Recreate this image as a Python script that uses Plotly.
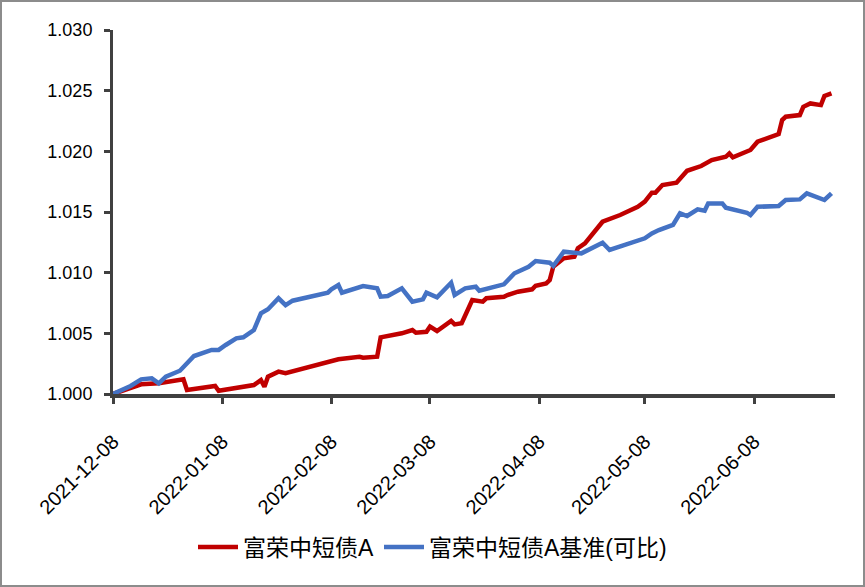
import pandas as pd
import plotly.graph_objects as go

start_date = "2021-12-08"

# Series 1: 富荣中短债A  (day offset from start date, unit NAV)
fund_days = [0, 5, 8, 13, 20, 21, 27, 29, 30, 35, 40, 42, 43, 44, 47, 49, 62, 64, 70, 71,
             75, 76, 82, 85, 86, 89, 90, 92, 96, 97, 99, 102, 105, 106, 111, 112, 115, 119,
             120, 123, 124, 125, 128, 131, 132, 134, 139, 144, 149, 151, 153, 154, 156, 160,
             163, 167, 170, 174, 175, 176, 181, 183, 189, 190, 191, 195, 196, 198, 201, 202, 204]
fund_vals = [1.00000, 1.00049, 1.00080, 1.00088, 1.00121, 1.00033, 1.00060, 1.00066, 1.00027,
             1.00047, 1.00074, 1.00115, 1.00060, 1.00143, 1.00184, 1.00171, 1.00266, 1.00286,
             1.00307, 1.00299, 1.00307, 1.00467, 1.00500, 1.00527, 1.00505, 1.00513, 1.00555,
             1.00519, 1.00602, 1.00574, 1.00583, 1.00775, 1.00761, 1.00789, 1.00802, 1.00816,
             1.00843, 1.00863, 1.00892, 1.00912, 1.00939, 1.01049, 1.01118, 1.01131, 1.01201,
             1.01242, 1.01420, 1.01475, 1.01543, 1.01585, 1.01659, 1.01659, 1.01722, 1.01741,
             1.01840, 1.01879, 1.01928, 1.01955, 1.01983, 1.01950, 1.02011, 1.02079, 1.02142,
             1.02258, 1.02285, 1.02299, 1.02367, 1.02395, 1.02381, 1.02456, 1.02478]

# Series 2: 富荣中短债A基准(可比)
bench_days = [0, 5, 8, 11, 13, 15, 19, 21, 23, 28, 30, 32, 35, 37, 40, 42, 44, 47, 49, 51,
              61, 62, 64, 65, 66, 71, 75, 76, 78, 82, 85, 88, 89, 92, 96, 97, 100, 103, 104,
              107, 111, 114, 118, 120, 124, 125, 128, 133, 139, 141, 151, 153, 155, 159, 161,
              163, 166, 168, 169, 173, 174, 180, 181, 183, 189, 191, 195, 197, 202, 204]
bench_vals = [1.00000, 1.00066, 1.00121, 1.00129, 1.00088, 1.00143, 1.00192, 1.00253, 1.00313,
              1.00363, 1.00363, 1.00404, 1.00459, 1.00467, 1.00527, 1.00665, 1.00698, 1.00789,
              1.00733, 1.00769, 1.00835, 1.00863, 1.00898, 1.00835, 1.00843, 1.00890, 1.00871,
              1.00802, 1.00808, 1.00871, 1.00761, 1.00780, 1.00835, 1.00797, 1.00917, 1.00816,
              1.00871, 1.00884, 1.00851, 1.00871, 1.00904, 1.00995, 1.01049, 1.01096, 1.01082,
              1.01055, 1.01173, 1.01159, 1.01247, 1.01187, 1.01283, 1.01324, 1.01351, 1.01393,
              1.01489, 1.01467, 1.01522, 1.01510, 1.01571, 1.01571, 1.01535, 1.01494, 1.01475,
              1.01543, 1.01549, 1.01599, 1.01604, 1.01654, 1.01599, 1.01654]

series_names = ["富荣中短债A", "富荣中短债A基准(可比)"]
tick_dates = ["2021-12-08", "2022-01-08", "2022-02-08", "2022-03-08",
              "2022-04-08", "2022-05-08", "2022-06-08"]
y_ticks = [1.000, 1.005, 1.010, 1.015, 1.020, 1.025, 1.030]

t0 = pd.Timestamp(start_date)
fund_x = t0 + pd.to_timedelta(fund_days, unit="D")
bench_x = t0 + pd.to_timedelta(bench_days, unit="D")

W, H = 865, 587
ML, MR, MT, MB = 113, 30, 30, 193
PW, PH = W - ML - MR, H - MT - MB

fig = go.Figure()
fig.add_trace(go.Scatter(x=fund_x, y=fund_vals, mode="lines", name=series_names[0],
                         line=dict(color="#C00000", width=4.5)))
fig.add_trace(go.Scatter(x=bench_x, y=bench_vals, mode="lines", name=series_names[1],
                         line=dict(color="#4472C4", width=4.5)))

axis_color = "#404040"
ytick_font = dict(family="Liberation Sans, Arial, sans-serif", size=18, color="#000000")
xtick_font = dict(family="Liberation Sans, Arial, sans-serif", size=20, color="#000000")

fig.update_layout(
    width=W, height=H,
    margin=dict(l=ML, r=MR, t=MT, b=MB, autoexpand=False),
    paper_bgcolor="white", plot_bgcolor="white",
    showlegend=True,
    legend=dict(orientation="h", xref="container", yref="container",
                x=0.5, xanchor="center", y=0.068, yanchor="middle",
                font=dict(family="Liberation Sans, Noto Sans CJK SC, sans-serif", size=23,
                          color="#000000"),
                itemwidth=40, tracegroupgap=0),
    xaxis=dict(type="date", range=[pd.Timestamp("2021-12-08"), pd.Timestamp("2022-07-01")],
               tickvals=tick_dates, tickformat="%Y-%m-%d", tickangle=-45,
               showgrid=False, zeroline=False, showline=True, linecolor=axis_color,
               linewidth=4, ticks="outside", ticklen=6, tickwidth=3, tickcolor=axis_color,
               tickfont=xtick_font, ticklabelstandoff=18, automargin=False),
    yaxis=dict(range=[1.0, 1.030], tickvals=y_ticks, tickformat=".3f",
               showgrid=False, zeroline=False, showline=True, linecolor=axis_color,
               linewidth=3, ticks="outside", ticklen=6, tickwidth=3, tickcolor=axis_color,
               tickfont=ytick_font, ticklabelstandoff=8, automargin=False),
)

# outer border of the picture
fig.add_shape(type="rect", xref="paper", yref="paper",
              x0=(-ML + 1) / PW, x1=(PW + MR - 1) / PW,
              y0=(-MB + 1) / PH, y1=(PH + MT - 1) / PH,
              line=dict(color="#8c8c8c", width=2), fillcolor="rgba(0,0,0,0)", layer="above")

fig.write_html("out.html")
